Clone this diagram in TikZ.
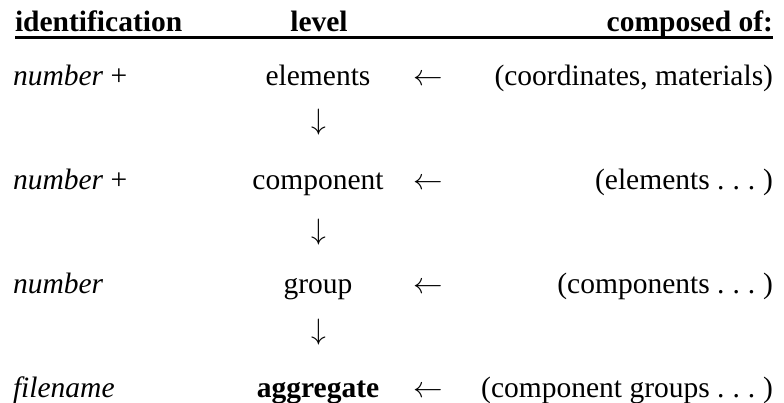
\RequirePackage{fix-cm}
\documentclass[tikz,border=0pt]{standalone}
\usepackage{fontspec}
\setmainfont{Liberation Serif}
% spaced dots in the classic LaTeX manner
\newcommand{\spaceddots}{.\kern0.27em.\kern0.27em.\kern0.27em}
\begin{document}
\begin{tikzpicture}[x=1pt,y=-1pt,
  every node/.style={inner sep=0pt,outer sep=0pt,font=\fontsize{29.5}{34}\selectfont},
  headl/.style={anchor=base west,font=\fontsize{29.5}{34}\selectfont\bfseries},
  headc/.style={anchor=base,font=\fontsize{29.5}{34}\selectfont\bfseries},
  headr/.style={anchor=base east,font=\fontsize{29.5}{34}\selectfont\bfseries},
  idtext/.style={anchor=base west},
  leveltext/.style={anchor=base},
  parttext/.style={anchor=base east},
  downarrow/.style={anchor=center},
  leftarrow/.style={anchor=base}]
\useasboundingbox (0,0) rectangle (784,403);

% column headings and the rule beneath them
\node[headl] (hid) at (15,32) {identification};
\node[headc] (hlev) at (319,32) {level};
\node[headr] (hcomp) at (773,32) {composed of:};
\draw[line width=2.6pt] (15,37.5) -- (773,37.5);

% row 1
\node[idtext] (id1) at (13,86) {\textit{number} +};
\node[leveltext] (lv1) at (318,86) {elements};
\node[leftarrow] (la1) at (428,86) {$\leftarrow$};
\node[parttext] (pt1) at (773,86) {(coordinates, materials)};

\node[downarrow] (da1) at (319,122) {$\downarrow$};

% row 2
\node[idtext] (id2) at (13,190) {\textit{number} +};
\node[leveltext] (lv2) at (318,190) {component};
\node[leftarrow] (la2) at (428,190) {$\leftarrow$};
\node[parttext] (pt2) at (773,190) {(elements \spaceddots)};

\node[downarrow] (da2) at (319,232) {$\downarrow$};

% row 3
\node[idtext] (id3) at (13,293) {\textit{number}};
\node[leveltext] (lv3) at (318,293) {group};
\node[leftarrow] (la3) at (428,293) {$\leftarrow$};
\node[parttext] (pt3) at (773,293) {(components \spaceddots)};

\node[downarrow] (da3) at (319,332) {$\downarrow$};

% row 4
\node[idtext] (id4) at (13,397) {\textit{filename}};
\node[leveltext] (lv4) at (318,397) {\textbf{aggregate}};
\node[leftarrow] (la4) at (428,397) {$\leftarrow$};
\node[parttext] (pt4) at (773,397) {(component groups \spaceddots)};
\end{tikzpicture}
\end{document}
